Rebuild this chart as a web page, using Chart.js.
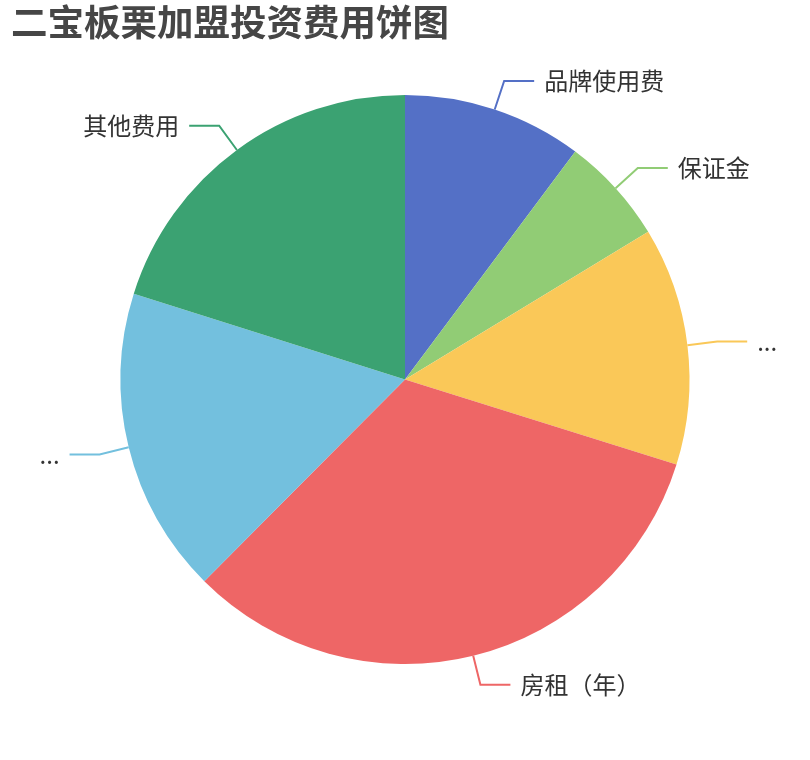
<!DOCTYPE html>
<html>
<head>
<meta charset="utf-8">
<script src="https://cdn.jsdelivr.net/npm/chart.js@4"></script>
<style>
    html, body { margin: 0; padding: 0; background: #fff; }
    #chart-pie { display: block; }
</style>
</head>
<body>
<canvas id="chart-pie" width="810" height="760"></canvas>
<script>
const chartTitle = '二宝板栗加盟投资费用饼图';
const categories = ['品牌使用费', '保证金', '...', '房租（年）', '...', '其他费用'];
const costValues = [10.2, 6.1, 13.5, 32.6, 17.4, 20.1];
const sliceColors = ['#5470c6', '#91cc75', '#fac858', '#ee6666', '#73c0de', '#3ba272'];

const FONT_FAMILY = '"Noto Sans CJK SC", "Noto Sans", sans-serif';

// Title drawn at the top left, outside the padded pie area
const titlePlugin = {
    id: 'leftTitle',
    afterDraw(chart) {
        const ctx = chart.ctx;
        ctx.save();
        ctx.font = `bold 36.5px ${FONT_FAMILY}`;
        ctx.fillStyle = '#464646';
        ctx.textAlign = 'left';
        ctx.textBaseline = 'top';
        ctx.fillText(chartTitle, 11, 4);
        ctx.restore();
    }
};

// Outside labels with a two-part leader line, like the original
const outsideLabels = {
    id: 'outsideLabels',
    afterDatasetsDraw(chart) {
        const ctx = chart.ctx;
        const arcs = chart.getDatasetMeta(0).data;
        ctx.save();
        ctx.font = `24px ${FONT_FAMILY}`;
        ctx.textBaseline = 'middle';
        ctx.lineWidth = 2;
        arcs.forEach((arc, i) => {
            const { x, y, startAngle, endAngle, outerRadius } = arc.getProps(['x', 'y', 'startAngle', 'endAngle', 'outerRadius'], true);
            const mid = (startAngle + endAngle) / 2;
            const cos = Math.cos(mid);
            const sin = Math.sin(mid);
            const isRight = cos >= 0;
            const x0 = x + cos * outerRadius;
            const y0 = y + sin * outerRadius;
            const x1 = x + cos * (outerRadius + 30);
            const y1 = y + sin * (outerRadius + 30);
            const x2 = x1 + (isRight ? 30 : -30);

            ctx.strokeStyle = sliceColors[i];
            ctx.beginPath();
            ctx.moveTo(x0, y0);
            ctx.lineTo(x1, y1);
            ctx.lineTo(x2, y1);
            ctx.stroke();

            ctx.fillStyle = '#333';
            ctx.textAlign = isRight ? 'left' : 'right';
            ctx.fillText(categories[i], x2 + (isRight ? 10 : -10), y1);
        });
        ctx.restore();
    }
};

new Chart(document.getElementById('chart-pie'), {
    type: 'pie',
    data: {
        labels: categories,
        datasets: [
            {
                data: costValues,
                backgroundColor: sliceColors,
                borderWidth: 0,
                hoverOffset: 0
            }
        ]
    },
    options: {
        responsive: false,
        animation: false,
        devicePixelRatio: 1,
        layout: {
            padding: { left: 120, right: 120, top: 95, bottom: 96 }
        },
        plugins: {
            legend: { display: false },
            tooltip: { enabled: false },
            title: { display: false }
        }
    },
    plugins: [titlePlugin, outsideLabels]
});
</script>
</body>
</html>
